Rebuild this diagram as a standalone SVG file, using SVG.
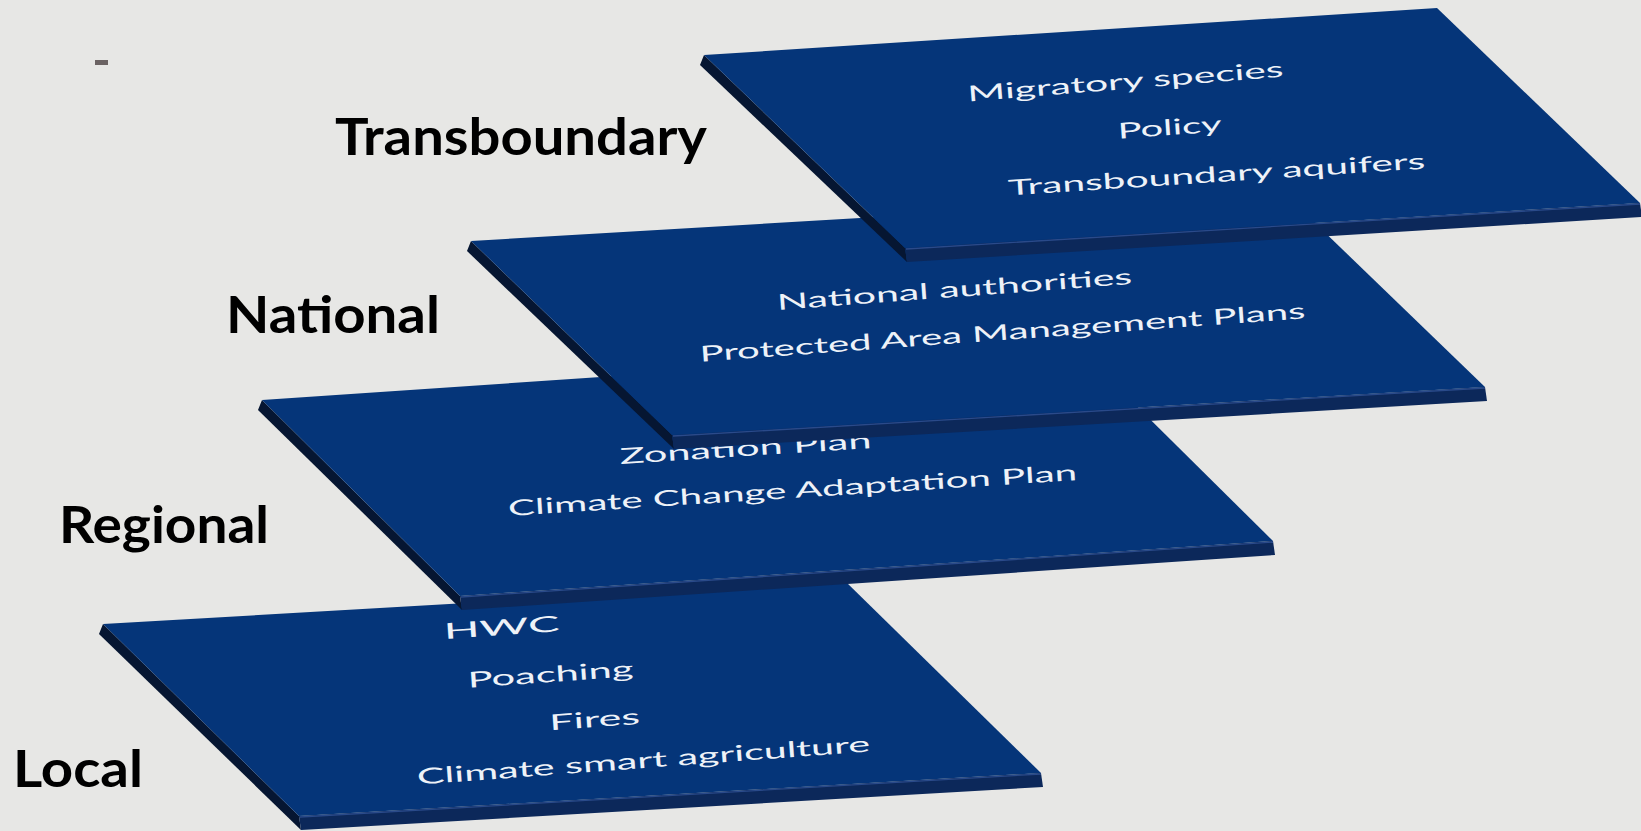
<svg xmlns="http://www.w3.org/2000/svg" width="1641" height="831" viewBox="0 0 1641 831">
<style>
.top{fill:#053579}
.side{fill:#061632}
.front{fill:#0c285a}
.rim{fill:none;stroke:#2a4a8a;stroke-width:1.3}
.lbl{font-family:Lato,'Noto Sans',sans-serif;font-weight:700;font-size:52px;fill:#000}
.txt{font-family:Lato,'Open Sans',sans-serif;font-size:34px;fill:#eef2f8;text-anchor:middle}
</style>
<rect width="1641" height="831" fill="#e7e7e5"/>
<rect x="95" y="60" width="13" height="5" fill="#6b6363"/>

<g id="labels">
<text class="lbl" x="335" y="155" textLength="372" lengthAdjust="spacingAndGlyphs">Transboundary</text>
<text class="lbl" x="226" y="333" textLength="214" lengthAdjust="spacingAndGlyphs">National</text>
<text class="lbl" x="59" y="543" textLength="210" lengthAdjust="spacingAndGlyphs">Regional</text>
<text class="lbl" x="13" y="787" textLength="130" lengthAdjust="spacingAndGlyphs">Local</text>
</g>

<g id="local">
<polygon class="side" points="103,624 299,816 301,830 99,634"/>
<polygon class="front" points="299,816 1041,773 1043,787 301,830"/>
<polyline class="rim" points="300,817 1041,774"/>
<polygon class="top" points="103,624 845,581 1041,773 299,816"/>
<text class="txt" transform="translate(502,635) rotate(-4) scale(1,0.64)" textLength="116" lengthAdjust="spacingAndGlyphs">HWC</text>
<text class="txt" transform="translate(551,682) rotate(-4) scale(1,0.64)" textLength="166" lengthAdjust="spacingAndGlyphs">Poaching</text>
<text class="txt" transform="translate(595,727) rotate(-4) scale(1,0.64)" textLength="91" lengthAdjust="spacingAndGlyphs">Fires</text>
<text class="txt" transform="translate(644,768) rotate(-4.2) scale(1,0.64)" textLength="454" lengthAdjust="spacingAndGlyphs">Climate smart agriculture</text>
</g>

<g id="regional">
<polygon class="side" points="262,400 460,596 462,610 258,410"/>
<polygon class="front" points="460,596 1273,541 1275,555 462,610"/>
<polyline class="rim" points="461,597 1273,542"/>
<polygon class="top" points="262,400 1075,345 1273,541 460,596"/>
<text class="txt" transform="translate(746,456) rotate(-3.6) scale(1,0.64)" textLength="252" lengthAdjust="spacingAndGlyphs">Zonation Plan</text>
<text class="txt" transform="translate(793,498) rotate(-3.6) scale(1,0.64)" textLength="570" lengthAdjust="spacingAndGlyphs">Climate Change Adaptation Plan</text>
</g>

<g id="national">
<polygon class="side" points="471,241 672,435 674,449 467,251"/>
<polygon class="front" points="672,435 1485,387 1487,401 674,449"/>
<polyline class="rim" points="673,436 1485,388"/>
<polygon class="top" points="471,241 1284,193 1485,387 672,435"/>
<text class="txt" transform="translate(955,297) rotate(-4.2) scale(1,0.64)" textLength="356" lengthAdjust="spacingAndGlyphs">National authorities</text>
<text class="txt" transform="translate(1003,340) rotate(-4.1) scale(1,0.64)" textLength="607" lengthAdjust="spacingAndGlyphs">Protected Area Management Plans</text>
</g>

<g id="transboundary">
<polygon class="side" points="704,55 905,248 907,262 700,65"/>
<polygon class="front" points="905,248 1640,203 1642,217 907,262"/>
<polyline class="rim" points="906,249 1640,204"/>
<polygon class="top" points="704,55 1437,8 1640,203 905,248"/>
<text class="txt" transform="translate(1126,89) rotate(-4.5) scale(1,0.64)" textLength="317" lengthAdjust="spacingAndGlyphs">Migratory species</text>
<text class="txt" transform="translate(1170,135) rotate(-4) scale(1,0.64)" textLength="104" lengthAdjust="spacingAndGlyphs">Policy</text>
<text class="txt" transform="translate(1217,182) rotate(-3.7) scale(1,0.64)" textLength="418" lengthAdjust="spacingAndGlyphs">Transboundary aquifers</text>
</g>
</svg>
